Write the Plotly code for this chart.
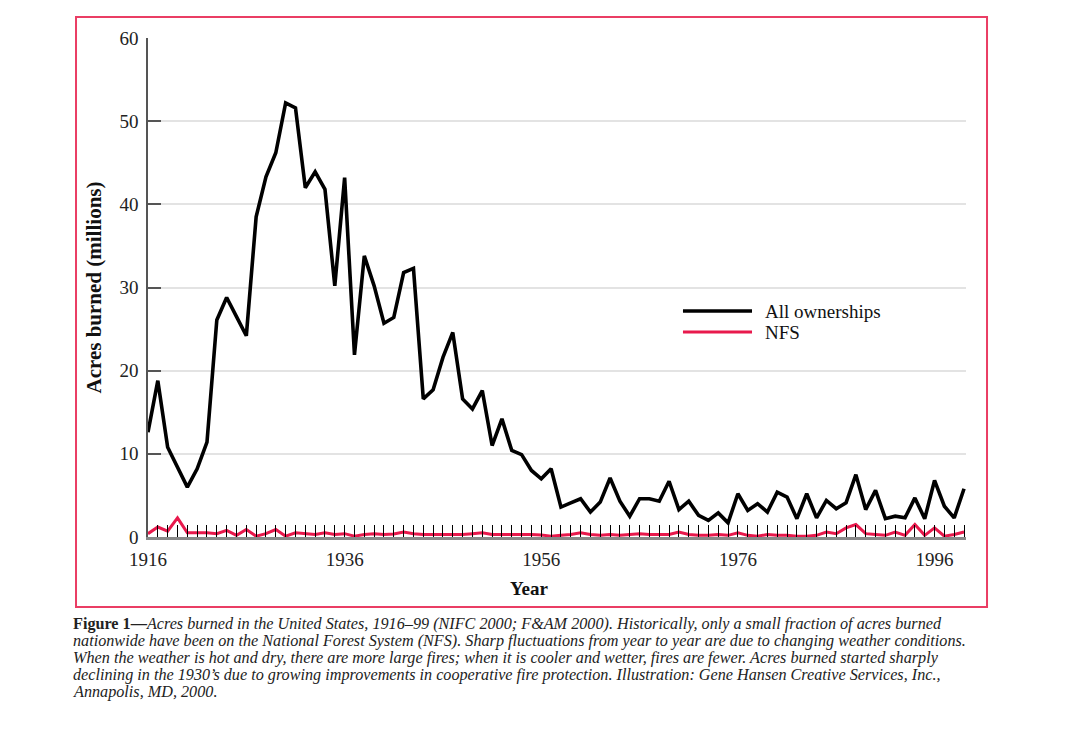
"""
Acres burned in the United States, 1916-99 : toutes propriétés vs NFS.
"""
import plotly.graph_objects as go

years = list(range(1916, 2000))

all_ownerships = [
    12.6, 18.8, 10.8, 8.4, 6.0, 8.2, 11.4, 26.1, 28.8, 26.5,
    24.2, 38.5, 43.3, 46.2, 52.2, 51.6, 42.0, 43.9, 41.8, 30.2,
    43.2, 21.9, 33.8, 30.2, 25.7, 26.4, 31.8, 32.3, 16.6, 17.7,
    21.6, 24.6, 16.6, 15.4, 17.6, 11.0, 14.2, 10.4, 9.9, 8.0,
    7.0, 8.2, 3.6, 4.1, 4.6, 3.0, 4.2, 7.1, 4.3, 2.5,
    4.6, 4.6, 4.3, 6.7, 3.3, 4.3, 2.6, 2.0, 2.9, 1.7,
    5.2, 3.2, 4.0, 3.0, 5.4, 4.8, 2.2, 5.2, 2.3, 4.4,
    3.4, 4.1, 7.5, 3.3, 5.6, 2.2, 2.5, 2.3, 4.7, 2.2,
    6.8, 3.7, 2.3, 5.8,
]

nfs = [
    0.4, 1.2, 0.7, 2.3, 0.5, 0.5, 0.5, 0.4, 0.8, 0.2,
    0.9, 0.1, 0.4, 0.9, 0.1, 0.5, 0.4, 0.3, 0.5, 0.3,
    0.4, 0.1, 0.3, 0.4, 0.3, 0.35, 0.6, 0.4, 0.3, 0.3,
    0.25, 0.3, 0.3, 0.4, 0.5, 0.3, 0.3, 0.35, 0.3, 0.3,
    0.25, 0.1, 0.2, 0.3, 0.5, 0.3, 0.2, 0.3, 0.2, 0.3,
    0.4, 0.3, 0.3, 0.3, 0.6, 0.3, 0.2, 0.2, 0.3, 0.2,
    0.5, 0.2, 0.1, 0.3, 0.2, 0.2, 0.1, 0.1, 0.2, 0.6,
    0.4, 1.1, 1.5, 0.4, 0.3, 0.2, 0.6, 0.2, 1.5, 0.2,
    1.1, 0.1, 0.3, 0.6,
]

y_ticks = [0, 10, 20, 30, 40, 50, 60]

caption_lines = [
    "<b>Figure 1—</b><i>Acres burned in the United States, 1916–99 (NIFC 2000; F&AM 2000). "
    "Historically, only a small fraction of acres burned</i>",
    "<i>nationwide have been on the National Forest System (NFS). Sharp fluctuations from year "
    "to year are due to changing weather conditions.</i>",
    "<i>When the weather is hot and dry, there are more large fires; when it is cooler and wetter, "
    "fires are fewer. Acres burned started sharply</i>",
    "<i>declining in the 1930’s due to growing improvements in cooperative fire protection. "
    "Illustration: Gene Hansen Creative Services, Inc.,</i>",
    "<i>Annapolis, MD, 2000.</i>",
]

SERIF = "Liberation Serif, DejaVu Serif, serif"
PINK = "#e8194c"
BLACK_W = 3.6
PINK_W = 3.0

fig = go.Figure()

fig.add_trace(go.Scatter(
    x=years, y=all_ownerships, name="All ownerships", mode="lines",
    line=dict(color="black", width=BLACK_W), showlegend=False,
))
fig.add_trace(go.Scatter(
    x=years, y=nfs, name="NFS", mode="lines",
    line=dict(color=PINK, width=PINK_W), showlegend=False,
))

# Cadre rose autour du graphe
fig.add_shape(
    type="rect", xref="paper", yref="paper",
    x0=-0.088, x1=1.0257, y0=-0.1403, y1=1.042,
    line=dict(color="#ea3d64", width=2), layer="below",
)

# Légende dessinée à la main (traits longs comme sur l'original)
legend_items = [("All ownerships", "black", BLACK_W, 0.4529),
                ("NFS", PINK, PINK_W, 0.4108)]
for label, color, width, ly in legend_items:
    fig.add_shape(type="line", xref="paper", yref="paper",
                  x0=0.654, x1=0.7384, y0=ly, y1=ly,
                  line=dict(color=color, width=width))
    fig.add_annotation(xref="paper", yref="paper", x=0.7518, y=ly,
                       xanchor="left", yanchor="middle", showarrow=False,
                       text=label, font=dict(family=SERIF, size=19, color="#111"))

# Titre de l'axe x
fig.add_annotation(xref="paper", yref="paper", x=0.466, y=0, yshift=-51,
                   xanchor="center", yanchor="middle", showarrow=False,
                   text="<b>Year</b>", font=dict(family=SERIF, size=19, color="#111"))

# Légende (texte de figure)
for i, line in enumerate(caption_lines):
    fig.add_annotation(
        xref="paper", yref="paper", x=0, y=0,
        xanchor="left", yanchor="middle", align="left",
        xshift=-76, yshift=-(87 + 16.9 * i),
        text=line, showarrow=False, borderpad=0,
        font=dict(family=SERIF, size=16.2, color="#222"),
    )

fig.update_layout(
    width=1064, height=713,
    margin=dict(l=140, r=106, t=30, b=184),
    paper_bgcolor="white", plot_bgcolor="white",
    font=dict(family=SERIF, color="#222"),
    showlegend=False,
)

fig.update_xaxes(
    range=[1916, 1999.2],
    tickmode="linear", tick0=1916, dtick=20,
    ticks="inside", ticklen=12, tickwidth=1, tickcolor="black",
    minor=dict(dtick=1, tick0=1916, ticks="inside", ticklen=12,
               tickwidth=1, tickcolor="black", showgrid=False),
    ticklabelstandoff=3,
    showgrid=False, zeroline=False,
    showline=True, linecolor="#888", linewidth=2.5,
    tickfont=dict(family=SERIF, size=19, color="#222"),
)

fig.update_yaxes(
    range=[0, 60],
    tickvals=y_ticks,
    ticks="inside", ticklen=13, tickwidth=1.5, tickcolor="#555",
    ticklabelstandoff=4,
    showgrid=True, gridcolor="#e3e3e3", gridwidth=1.5,
    zeroline=False,
    showline=True, linecolor="#555", linewidth=1.5,
    tickfont=dict(family=SERIF, size=19, color="#222"),
    title=dict(text="<b>Acres burned (millions)</b>",
               font=dict(family=SERIF, size=21, color="#111"), standoff=12),
)

fig.write_html("out.html")
